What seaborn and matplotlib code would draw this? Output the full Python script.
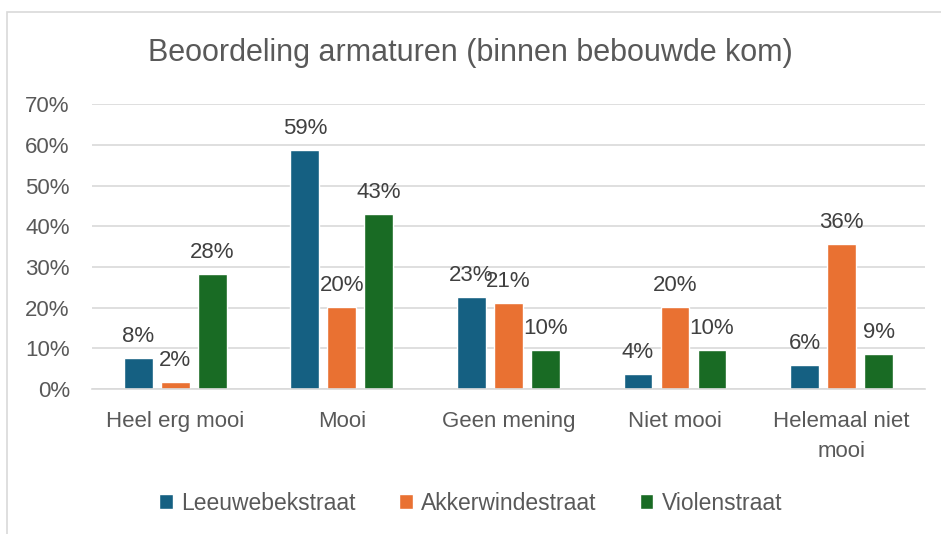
import matplotlib
matplotlib.use("Agg")
import matplotlib.pyplot as plt
import seaborn as sns
import pandas as pd
from matplotlib.patches import Rectangle

# data (percentages)
categories = ["Heel erg mooi", "Mooi", "Geen mening", "Niet mooi", "Helemaal niet\nmooi"]
streets = ["Leeuwebekstraat", "Akkerwindestraat", "Violenstraat"]
leeuwebek = [7.6, 58.8, 22.6, 3.7, 5.8]
akkerwinde = [1.8, 20.2, 21.2, 20.2, 35.6]
violen = [28.3, 42.9, 9.6, 9.6, 8.6]
colors = ["#156082", "#E97132", "#196B24"]

series = [leeuwebek, akkerwinde, violen]
rows = []
for s, vals in zip(streets, series):
    for c, v in zip(categories, vals):
        rows.append({"categorie": c, "straat": s, "waarde": v})
df = pd.DataFrame(rows)

sns.set_style("white")
plt.rcParams["font.family"] = ["Liberation Sans", "DejaVu Sans"]
text_col = "#595959"

fig = plt.figure(figsize=(9.41, 5.34), dpi=100)
ax = fig.add_axes([0.0978, 0.2715, 0.885, 0.5335])

sns.barplot(data=df, x="categorie", y="waarde", hue="straat", palette=colors,
            width=0.666, gap=0.22, ax=ax, saturation=1, legend=True)

for cont, vals in zip(ax.containers, series):
    ax.bar_label(cont, labels=[f"{round(v)}%" for v in vals], padding=8,
                 fontsize=16, color="#404040")

ax.set_ylim(0, 70)
ax.set_xlim(-0.5, 4.5)
ax.set_yticks(range(0, 71, 10))
ax.set_yticklabels([f"{t}%" for t in range(0, 71, 10)])
ax.yaxis.grid(True, color="#D9D9D9", linewidth=1.2)
ax.set_axisbelow(True)
for sp in ["top", "right", "left"]:
    ax.spines[sp].set_visible(False)
ax.spines["bottom"].set_color("#D9D9D9")
ax.spines["bottom"].set_linewidth(1.2)
ax.tick_params(axis="both", length=0, labelsize=16, labelcolor=text_col)
ax.tick_params(axis="y", pad=16)
ax.tick_params(axis="x", pad=16)
for lab in ax.get_xticklabels():
    lab.set_linespacing(1.55)
ax.set_xlabel("")
ax.set_ylabel("")

fig.text(0.5, 0.9, "Beoordeling armaturen (binnen bebouwde kom)",
         ha="center", va="center", fontsize=22, color=text_col)

handles, labels = ax.get_legend_handles_labels()
ax.legend(handles, labels, loc="center", bbox_to_anchor=(0.5, 0.058),
          bbox_transform=fig.transFigure, ncol=3, frameon=False,
          fontsize=16.5, labelcolor=text_col, handlelength=0.6, handleheight=0.6,
          handletextpad=0.35, columnspacing=1.9)

# chart border
fig.patches.append(Rectangle((0.007, -0.01), 1.1, 0.987, transform=fig.transFigure,
                             fill=False, edgecolor="#D9D9D9", linewidth=1.2))

fig.savefig("out.png", dpi=100)
